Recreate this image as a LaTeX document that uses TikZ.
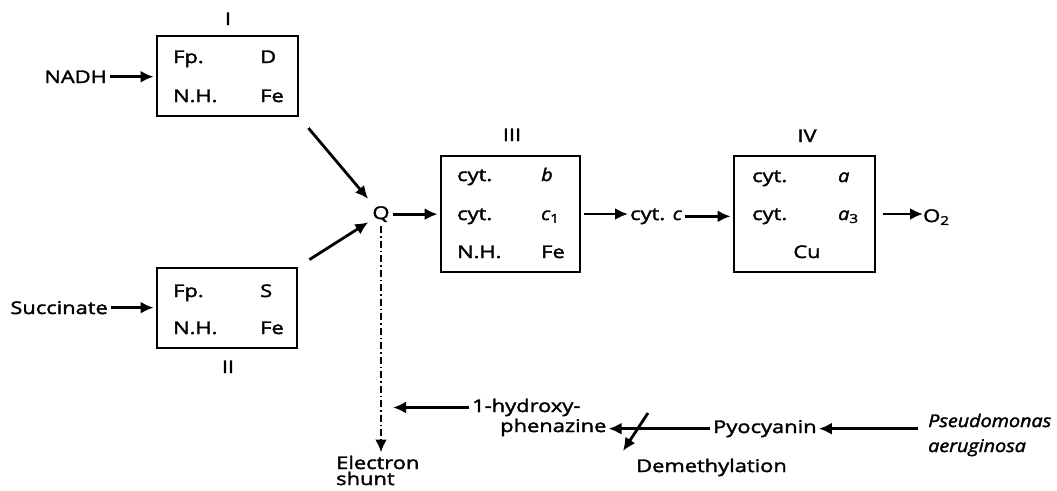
\documentclass[tikz,border=0pt]{standalone}
\usepackage{fontspec}
\setmainfont{Open Sans}[FakeStretch=1.25,FakeBold=2,ItalicFeatures={FakeStretch=1.13,FakeBold=2}]
\usetikzlibrary{arrows.meta}

\begin{document}
\begin{tikzpicture}[x=1pt,y=-1pt,
    font=\fontsize{17.5}{21}\selectfont,
    every node/.style={inner sep=0pt},
    box/.style={draw,line width=2.8pt,minimum width=#1},
    arr/.style={line width=2.8pt,-{Latex[length=13pt,width=12pt]},shorten <=3pt,shorten >=2pt},
    shuntline/.style={line width=2.8pt,dash pattern=on 7pt off 3pt on 1.5pt off 3pt,-{Latex[length=13pt,width=12pt]}}]
  \useasboundingbox (0,0) rectangle (1057,490);
  \pgfmathsetmacro\la{173}
  \pgfmathsetmacro\ra{260}
  \pgfmathsetmacro\lb{457}
  \pgfmathsetmacro\rb{541}
  \pgfmathsetmacro\lc{752}
  \pgfmathsetmacro\rc{838}
  % complex I:
  \node[box=141pt,minimum height=80pt] (cI) at (227.5,76) {};
  \node[anchor=base] (lI) at (228,25) {I};
  \node[anchor=base west] at (\la,63) {Fp.};
  \node[anchor=base west] at (\ra,63) {D};
  \node[anchor=base west] at (\la,102) {N.H.};
  \node[anchor=base west] at (\ra,102) {Fe};
  % complex II:
  \node[box=140pt,minimum height=80pt] (cII) at (227,308) {};
  \node[anchor=base] (lII) at (228,373) {II};
  \node[anchor=base west] at (\la,297) {Fp.};
  \node[anchor=base west] at (\ra,297) {S};
  \node[anchor=base west] at (\la,334) {N.H.};
  \node[anchor=base west] at (\ra,334) {Fe};
  % complex III:
  \node[box=139pt,minimum height=116pt] (cIII) at (510.5,214) {};
  \node[anchor=base] (lIII) at (512,141) {III};
  \node[anchor=base west] at (\lb,181) {cyt.};
  \node[anchor=base west] at (\rb,181) {\itshape b};
  \node[anchor=base west] at (\lb,220) {cyt.};
  \node[anchor=base west] at (\rb,220) {{\itshape c}\textsubscript{1}};
  \node[anchor=base west] at (\lb,258) {N.H.};
  \node[anchor=base west] at (\rb,258) {Fe};
  % complex IV:
  \node[box=141pt,minimum height=116pt] (cIV) at (804.5,214) {};
  \node[anchor=base] (lIV) at (807,142) {IV};
  \node[anchor=base west] at (\lc,182) {cyt.};
  \node[anchor=base west] at (\rc,182) {\itshape a};
  \node[anchor=base west] at (\lc,220) {cyt.};
  \node[anchor=base west] at (\rc,220) {{\itshape a}\textsubscript{3}};
  \node[anchor=base] at (807,258) {Cu};
  % substrates, carriers and oxygen:
  \node[anchor=base east] (nadh) at (107,83) {NADH};
  \node[anchor=base east] (succ) at (108,314) {Succinate};
  \node[anchor=base] (q) at (381,219) {Q};
  \node[anchor=base west] (cytc) at (630,220) {cyt. \itshape c};
  \node[anchor=base west] (otwo) at (923,222) {O\textsubscript{2}};
  % shunt branch:
  \node[anchor=base west] (electron) at (336,469) {Electron};
  \node[anchor=base west] (shunt) at (336,485) {shunt};
  \node[anchor=base west] (hydroxy) at (472,412) {1-hydroxy-};
  \node[anchor=base west] (phen) at (500,432) {phenazine};
  \node[anchor=base west] (pyo) at (713,433) {Pyocyanin};
  \node[anchor=base west] (pseud) at (928,427) {\itshape Pseudomonas};
  \node[anchor=base west] (aerug) at (928,452) {\itshape aeruginosa};
  \node[anchor=base west] (demeth) at (636,472) {Demethylation};
  \coordinate (dmfrom) at (648,413);
  \coordinate (dmto) at (623,451);
  % main chain:
  \draw[arr] (nadh) -- (nadh -| cI.west);
  \draw[arr] (succ) -- (succ -| cII.west);
  \draw[arr,shorten <=14pt,shorten >=20pt] (cI.south east) -- (q.center);
  \draw[arr,shorten <=13pt,shorten >=15pt] (cII.north east) -- (q.center);
  \draw[arr] (q.east) -- (q.east -| cIII.west);
  \draw[arr] (cIII.east) -- (cIII.east -| cytc.west);
  \draw[arr] (cytc.east) -- (cytc.east -| cIV.west);
  \draw[arr,shorten <=7pt,shorten >=0pt] (cIV.east) -- (cIV.east -| otwo.west);
  % electron shunt:
  \draw[shuntline,shorten <=4pt,shorten >=3pt] (q.south) -- (q.south |- electron.north);
  \draw[arr,shorten >=12pt] (hydroxy.west) -- (hydroxy.west -| q.south);
  \draw[arr] (pyo.west) -- (pyo.west -| phen.east);
  \draw[arr,shorten <=10pt] (pyo.east -| pseud.west) -- (pyo.east);
  \draw[arr,shorten <=0pt,shorten >=0pt] (dmfrom) -- (dmto);
\end{tikzpicture}
\end{document}
